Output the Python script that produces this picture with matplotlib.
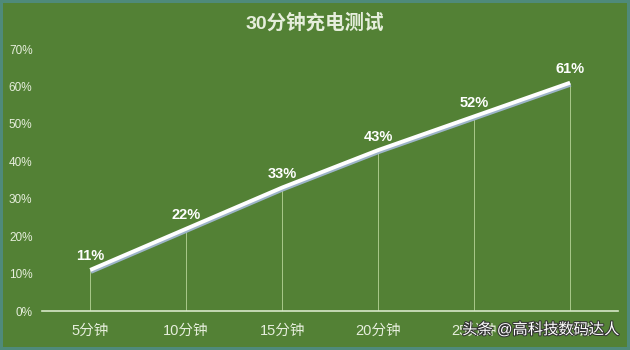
import matplotlib.pyplot as plt
import matplotlib.patheffects as pe

plt.rcParams['font.family'] = ['Liberation Sans', 'Noto Sans CJK SC', 'DejaVu Sans']

categories = ['5分钟', '10分钟', '15分钟', '20分钟', '25分钟', '30分钟']
values = [11, 22, 33, 43, 52, 61]
yticks = [0, 10, 20, 30, 40, 50, 60, 70]

bg = '#538135'
txt = '#e6eedc'

fig = plt.figure(figsize=(6.3, 3.5), dpi=100, facecolor=bg,
                 edgecolor='#4f8a7a', linewidth=3)
ax = fig.add_axes([0.067, 0.111, 0.914, 0.749])
ax.set_facecolor(bg)

x = list(range(len(categories)))

# drop lines from each point to the axis
ax.vlines(x, 0, values, color='#a9c98a', linewidth=0.7, zorder=2)

# line with a soft shadow underneath
ax.plot(x, values, color='white', linewidth=2.8, solid_capstyle='butt', zorder=4,
        path_effects=[pe.SimpleLineShadow(offset=(0.5, -1.4), shadow_color='#9db4c8', alpha=1),
                      pe.Normal()])

for xi, v in zip(x, values):
    ax.text(xi, v + 3.6, f'{v}%', ha='center', va='center', color='white',
            fontsize=10.5, fontweight='bold', zorder=5)

ax.set_xlim(-0.5, len(categories) - 0.5)
ax.set_ylim(0, 70)
ax.set_yticks(yticks)
ax.set_yticklabels([f'{t}%' for t in yticks], color=txt, fontsize=8.5)
ax.set_xticks(x)
ax.set_xticklabels(categories, color=txt, fontsize=10.5)
ax.tick_params(axis='x', length=0, pad=9)
ax.tick_params(axis='y', length=0, pad=7)

for s in ['top', 'right', 'left']:
    ax.spines[s].set_visible(False)
ax.spines['bottom'].set_color('#d8e8c8')
ax.spines['bottom'].set_linewidth(1.2)

fig.text(0.5, 0.935, '30分钟充电测试', ha='center', va='center', color=txt,
         fontsize=14, fontweight='bold')

# watermark sits over the last tick labels, as in the source image
fig.text(0.983, 0.058, '头条 @高科技数码达人', ha='right', va='center', color='white',
         fontsize=11,
         path_effects=[pe.withStroke(linewidth=1.5, foreground='#333333')])

fig.savefig('out.png', dpi=100, facecolor=bg, edgecolor=fig.get_edgecolor())
